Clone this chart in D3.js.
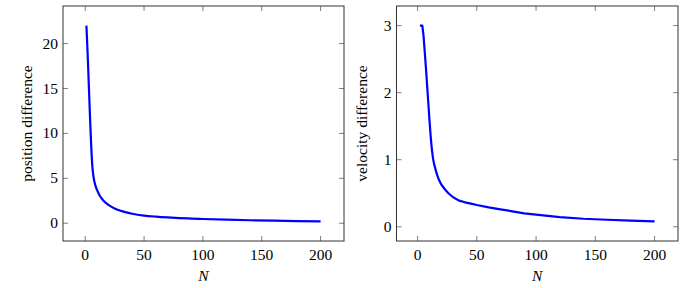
<!DOCTYPE html>
<html>
<head>
<meta charset="utf-8">
<script src="https://cdn.jsdelivr.net/npm/d3@7"></script>
<style>
  body { margin: 0; background: #fff; }
</style>
</head>
<body>
<svg id="chart" width="698" height="288"></svg>
<script>
// values
const posN = [1, 2, 3, 4, 5, 6, 7, 8, 10, 12, 14, 16, 18, 20, 25, 30, 35, 40, 50, 60, 70, 80, 90, 100, 120, 140, 160, 180, 200];
const posDiff = [22, 19, 15.5, 12, 8.8, 6.4, 5.2, 4.5, 3.7, 3.15, 2.75, 2.45, 2.2, 2.02, 1.65, 1.38, 1.2, 1.05, 0.85, 0.73, 0.64, 0.57, 0.52, 0.47, 0.39, 0.33, 0.28, 0.24, 0.2];

const velN = [2, 3, 4, 5, 6, 7, 8, 9, 10, 11, 12, 13, 14, 16, 18, 20, 23, 26, 30, 35, 40, 45, 50, 60, 70, 80, 90, 100, 120, 140, 160, 180, 200];
const velDiff = [3, 3, 3, 2.85, 2.62, 2.38, 2.12, 1.86, 1.6, 1.36, 1.16, 1.02, 0.93, 0.8, 0.7, 0.63, 0.56, 0.5, 0.44, 0.39, 0.365, 0.345, 0.325, 0.29, 0.26, 0.23, 0.2, 0.18, 0.145, 0.12, 0.105, 0.093, 0.08];

const xTicks = [0, 50, 100, 150, 200];
const posTicks = [0, 5, 10, 15, 20];
const velTicks = [0, 1, 2, 3];

const FONT = "'Liberation Serif', 'Times New Roman', Times, serif";
const FS = 15.5;

const svg = d3.select('#chart');

// pgfplots-style axis: box frame, ticks pointing inward on all sides, 10% enlarged limits
function drawPanel(opts) {
    const { left, right, top, bottom, xs, ys, yTicks, yLabel, yLabelX, curve } = opts;

    const xExt = d3.extent(xs);
    const yExt = d3.extent(ys);
    const xPad = (xExt[1] - xExt[0]) * 0.1;
    const yPad = (yExt[1] - yExt[0]) * 0.1;

    const x = d3.scaleLinear().domain([xExt[0] - xPad, xExt[1] + xPad]).range([left, right]);
    const y = d3.scaleLinear().domain([yExt[0] - yPad, yExt[1] + yPad]).range([bottom, top]);

    const g = svg.append('g');
    const tickLen = 5;
    const tickColor = '#7f7f7f';

    // tick marks
    xTicks.forEach(t => {
        g.append('line').attr('x1', x(t)).attr('x2', x(t)).attr('y1', bottom).attr('y2', bottom - tickLen)
            .attr('stroke', tickColor).attr('stroke-width', 1);
        g.append('line').attr('x1', x(t)).attr('x2', x(t)).attr('y1', top).attr('y2', top + tickLen)
            .attr('stroke', tickColor).attr('stroke-width', 1);
        g.append('text').attr('x', x(t)).attr('y', bottom + 19)
            .attr('text-anchor', 'middle').attr('font-family', FONT).attr('font-size', FS).text(t);
    });
    yTicks.forEach(t => {
        g.append('line').attr('x1', left).attr('x2', left + tickLen).attr('y1', y(t)).attr('y2', y(t))
            .attr('stroke', tickColor).attr('stroke-width', 1);
        g.append('line').attr('x1', right).attr('x2', right - tickLen).attr('y1', y(t)).attr('y2', y(t))
            .attr('stroke', tickColor).attr('stroke-width', 1);
        g.append('text').attr('x', left - 5).attr('y', y(t)).attr('dy', '0.33em')
            .attr('text-anchor', 'end').attr('font-family', FONT).attr('font-size', FS).text(t);
    });

    // data line
    const line = d3.line()
        .x((d, i) => x(xs[i]))
        .y((d, i) => y(ys[i]))
        .curve(curve);
    g.append('path')
        .attr('d', line(xs))
        .attr('fill', 'none')
        .attr('stroke', '#0000ff')
        .attr('stroke-width', 2.2)
        .attr('stroke-linejoin', 'round');

    // frame
    g.append('rect').attr('x', left).attr('y', top)
        .attr('width', right - left).attr('height', bottom - top)
        .attr('fill', 'none').attr('stroke', '#333').attr('stroke-width', 1);

    // labels
    g.append('text').attr('x', (left + right) / 2).attr('y', 281)
        .attr('text-anchor', 'middle').attr('font-family', FONT).attr('font-size', FS)
        .attr('font-style', 'italic').text('N');
    g.append('text')
        .attr('transform', `translate(${yLabelX},${(top + bottom) / 2}) rotate(-90)`)
        .attr('text-anchor', 'middle').attr('font-family', FONT).attr('font-size', FS).text(yLabel);
}

drawPanel({
    left: 63, right: 344, top: 6, bottom: 241,
    xs: posN, ys: posDiff, yTicks: posTicks,
    yLabel: 'position difference', yLabelX: 32, curve: d3.curveMonotoneX
});

drawPanel({
    left: 396.5, right: 678, top: 6, bottom: 241,
    xs: velN, ys: velDiff, yTicks: velTicks,
    yLabel: 'velocity difference', yLabelX: 367, curve: d3.curveLinear
});
</script>
</body>
</html>
